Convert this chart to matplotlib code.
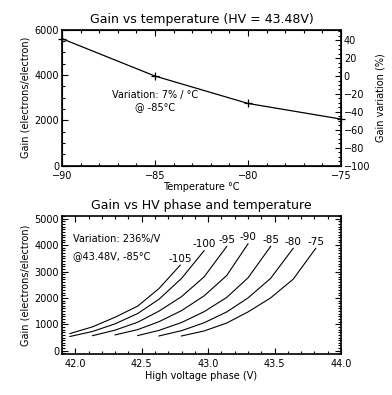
import numpy as np
import matplotlib
matplotlib.use("Agg")
import matplotlib.pyplot as plt
from matplotlib.ticker import MultipleLocator

# top panel: gain vs temperature at HV = 43.48 V
temps = [-90, -85, -80, -75]
gain_t = [5600, 3950, 2740, 2050]

# bottom panel: gain vs HV phase, one curve per temperature
curve_temps = [-105, -100, -95, -90, -85, -80, -75]
hv = {
    -105: [41.96, 42.13, 42.30, 42.47, 42.63, 42.79],
    -100: [41.96, 42.13, 42.30, 42.47, 42.63, 42.80, 42.97],
    -95: [42.13, 42.30, 42.47, 42.63, 42.80, 42.97, 43.14],
    -90: [42.30, 42.47, 42.63, 42.80, 42.97, 43.14, 43.30],
    -85: [42.47, 42.63, 42.80, 42.97, 43.14, 43.30, 43.47],
    -80: [42.63, 42.80, 42.97, 43.14, 43.30, 43.47, 43.64],
    -75: [42.80, 42.97, 43.14, 43.30, 43.47, 43.64, 43.81],
}
gain_hv = {
    -105: [650, 905, 1270, 1690, 2355, 3240],
    -100: [540, 730, 1020, 1410, 1950, 2740, 3790],
    -95: [570, 780, 1080, 1500, 2050, 2800, 3950],
    -90: [600, 800, 1100, 1520, 2080, 2850, 4050],
    -85: [575, 770, 1070, 1480, 2020, 2760, 3950],
    -80: [560, 760, 1060, 1470, 2000, 2740, 3880],
    -75: [560, 750, 1050, 1470, 2000, 2710, 3880],
}

FS = 7
plt.rcParams['font.family'] = ['DejaVu Sans']
plt.rcParams['font.size'] = FS

fig = plt.figure(figsize=(3.92, 3.95), dpi=100)

def style(ax, right=True):
    for s in ax.spines.values():
        s.set_linewidth(1.2)
    ax.tick_params(which='both', direction='in', top=True, right=right,
                   labelsize=FS, pad=2, width=0.8)
    ax.tick_params(axis='x', which='both', pad=4)
    ax.tick_params(which='major', length=4)
    ax.tick_params(which='minor', length=2)

# ---- top
ax1 = fig.add_axes([0.158, 0.581, 0.712, 0.344])
ax1.plot(temps, gain_t, color='black', lw=0.9, marker='+', ms=6,
         mew=0.9, clip_on=False)
ax1.set_xlim(-90, -75)
ax1.set_ylim(0, 6000)
ax1.xaxis.set_major_locator(MultipleLocator(5))
ax1.xaxis.set_minor_locator(MultipleLocator(1))
ax1.yaxis.set_major_locator(MultipleLocator(2000))
ax1.yaxis.set_minor_locator(MultipleLocator(500))
style(ax1, right=False)
ax1.set_title('Gain vs temperature (HV = 43.48V)', fontsize=9, pad=5)
ax1.set_xlabel('Temperature °C', fontsize=FS, labelpad=1)
ax1.set_ylabel('Gain (electrons/electron)', fontsize=FS, labelpad=3)
ax1.text(-85.0, 3110, 'Variation: 7% / °C', ha='center', va='center',
         fontsize=FS)
ax1.text(-85.0, 2560, '@ -85°C', ha='center', va='center', fontsize=FS)

g0 = gain_t[temps.index(-85)]
ax1r = ax1.twinx()
ax1r.set_ylim((0 / g0 - 1) * 100, (6000 / g0 - 1) * 100)
ax1r.yaxis.set_major_locator(MultipleLocator(20))
ax1r.yaxis.set_minor_locator(MultipleLocator(5))
ax1r.tick_params(which='both', direction='in', labelsize=FS, pad=2,
                 width=0.8)
ax1r.tick_params(which='major', length=4)
ax1r.tick_params(which='minor', length=2)
ax1r.set_ylabel('Gain variation (%)', fontsize=FS, labelpad=4)

# ---- bottom
ax2 = fig.add_axes([0.158, 0.104, 0.712, 0.349])
for t in curve_temps:
    ax2.plot(hv[t], gain_hv[t], color='black', lw=0.8)
    ax2.annotate(str(t), (hv[t][-1], gain_hv[t][-1]), xytext=(0, 1),
                 textcoords='offset points', ha='center', va='bottom',
                 fontsize=FS + 0.5)
ax2.set_xlim(41.9, 44.0)
ax2.set_ylim(-120, 5100)
ax2.xaxis.set_major_locator(MultipleLocator(0.5))
ax2.xaxis.set_minor_locator(MultipleLocator(0.1))
ax2.yaxis.set_major_locator(MultipleLocator(1000))
ax2.yaxis.set_minor_locator(MultipleLocator(100))
ax2.xaxis.set_major_formatter(matplotlib.ticker.FormatStrFormatter('%.1f'))
style(ax2)
ax2.set_title('Gain vs HV phase and temperature', fontsize=9, pad=5)
ax2.set_xlabel('High voltage phase (V)', fontsize=FS, labelpad=1)
ax2.set_ylabel('Gain (electrons/electron)', fontsize=FS, labelpad=3)
ax2.text(41.98, 4240, 'Variation: 236%/V', ha='left', va='center',
         fontsize=FS)
ax2.text(41.98, 3600, '@43.48V, -85°C', ha='left', va='center',
         fontsize=FS)

fig.savefig('out.png', dpi=100)
